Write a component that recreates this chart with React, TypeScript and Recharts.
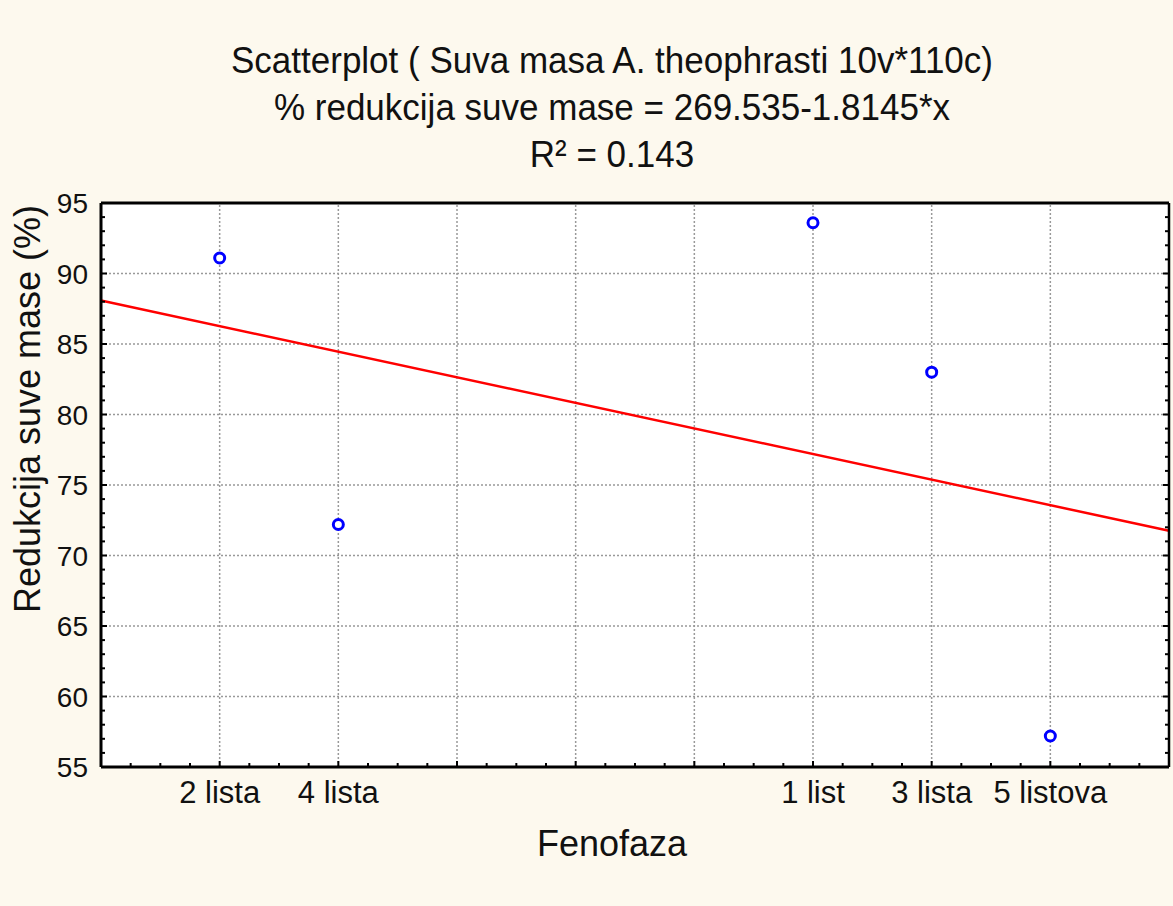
import { ScatterChart, Scatter, XAxis, YAxis, ReferenceLine } from 'recharts';

// faze razvoja (x pozicije iz Statistica grafika)
const PHASES = ['2 lista', '4 lista', '1 list', '3 lista', '5 listova'];
const PHASE_X = [101, 102, 106, 107, 108];
const REDUCTION = [91.1, 72.2, 93.6, 83.0, 57.2];

const X_DOMAIN: [number, number] = [100, 109];
const Y_DOMAIN: [number, number] = [55, 95];
const Y_LABELS = [55, 60, 65, 70, 75, 80, 85, 90, 95];

// regresija iz naslova
const INTERCEPT = 269.535;
const SLOPE = -1.8145;

const TITLE_LINES = [
    'Scatterplot ( Suva masa A. theophrasti 10v*110c)',
    '% redukcija suve mase = 269.535-1.8145*x',
    'R² = 0.143',
];

const points = PHASE_X.map((x, i) => ({ x, y: REDUCTION[i], name: PHASES[i] }));

const xMinor = Array.from({ length: 37 }, (_, i) => X_DOMAIN[0] + i * 0.25);
const xMajor = Array.from({ length: 10 }, (_, i) => X_DOMAIN[0] + i);
const yMinor = Array.from({ length: 41 }, (_, i) => Y_DOMAIN[0] + i);

const FONT = '"Liberation Sans", Arial, sans-serif';
const BG = '#fdf9ee';
const GRID = '#999999';

const labelFor = (v: number) => {
    const idx = PHASE_X.indexOf(v);
    return idx >= 0 ? PHASES[idx] : '';
};

const BottomTick = (props: any) => {
    const { x, y, payload } = props;
    const major = Number.isInteger(payload.value);
    const label = labelFor(payload.value);
    return (
        <g>
            <line x1={x} x2={x} y1={y} y2={y - (major ? 6 : 4)} stroke="#000" strokeWidth={2} />
            {label && (
                <text x={x} y={y + 36} textAnchor="middle" fontSize={31} fontFamily={FONT} fill="#111">
                    {label}
                </text>
            )}
        </g>
    );
};

const TopTick = (props: any) => {
    const { x, y, payload } = props;
    const major = Number.isInteger(payload.value);
    return <line x1={x} x2={x} y1={y} y2={y + (major ? 6 : 4)} stroke="#000" strokeWidth={2} />;
};

const LeftTick = (props: any) => {
    const { x, y, payload } = props;
    const major = payload.value % 5 === 0;
    return (
        <g>
            <line x1={x} x2={x + (major ? 6 : 4)} y1={y} y2={y} stroke="#000" strokeWidth={2} />
            {major && (
                <text x={x - 13} y={y} dy="0.36em" textAnchor="end" fontSize={28} fontFamily={FONT} fill="#111">
                    {payload.value}
                </text>
            )}
        </g>
    );
};

const RightTick = (props: any) => {
    const { x, y, payload } = props;
    const major = payload.value % 5 === 0;
    return <line x1={x} x2={x - (major ? 6 : 4)} y1={y} y2={y} stroke="#000" strokeWidth={2} />;
};

const Ring = (props: any) => {
    const { cx, cy } = props;
    return <circle cx={cx} cy={cy} r={5} fill="#fff" stroke="#0000ff" strokeWidth={3} />;
};

export default function App() {
    return (
        <div style={{ position: 'absolute', left: 0, top: 0, width: 1173, height: 906, background: BG, fontFamily: FONT }}>
            <div
                style={{
                    position: 'absolute',
                    left: 0,
                    top: 36,
                    width: 1224,
                    textAlign: 'center',
                    fontSize: 35,
                    lineHeight: '43.5px',
                    color: '#111',
                    transform: 'scaleY(1.08)',
                    transformOrigin: 'top',
                }}
            >
                {TITLE_LINES.map((t) => (
                    <div key={t}>{t}</div>
                ))}
            </div>
            <ScatterChart
                width={1173}
                height={906}
                margin={{ top: 202, right: 3, bottom: 79, left: 0 }}
                style={{ position: 'absolute', left: 0, top: 0 }}
            >
                <rect x={101} y={203} width={1068} height={564} fill="#fff" />
                <XAxis
                    xAxisId="bottom"
                    dataKey="x"
                    type="number"
                    domain={X_DOMAIN}
                    ticks={xMinor}
                    interval={0}
                    height={60}
                    tickSize={0}
                    tickMargin={0}
                    tick={<BottomTick />}
                    axisLine={{ stroke: '#000', strokeWidth: 3 }}
                    allowDataOverflow
                />
                <XAxis
                    xAxisId="top"
                    orientation="top"
                    type="number"
                    domain={X_DOMAIN}
                    ticks={xMinor}
                    interval={0}
                    height={1}
                    tickSize={0}
                    tickMargin={0}
                    tick={<TopTick />}
                    axisLine={{ stroke: '#000', strokeWidth: 3 }}
                    allowDataOverflow
                />
                <YAxis
                    yAxisId="left"
                    dataKey="y"
                    type="number"
                    domain={Y_DOMAIN}
                    ticks={yMinor}
                    interval={0}
                    width={101}
                    tickSize={0}
                    tickMargin={0}
                    tick={<LeftTick />}
                    axisLine={{ stroke: '#000', strokeWidth: 3 }}
                    allowDataOverflow
                />
                <YAxis
                    yAxisId="right"
                    orientation="right"
                    type="number"
                    domain={Y_DOMAIN}
                    ticks={yMinor}
                    interval={0}
                    width={1}
                    tickSize={0}
                    tickMargin={0}
                    tick={<RightTick />}
                    axisLine={{ stroke: '#000', strokeWidth: 2.5 }}
                    allowDataOverflow
                />
                {xMajor.slice(1, -1).map((v) => (
                    <ReferenceLine key={`vx${v}`} x={v} xAxisId="bottom" yAxisId="left" stroke={GRID} strokeWidth={1.5} strokeDasharray="2 2" />
                ))}
                {Y_LABELS.slice(1, -1).map((v) => (
                    <ReferenceLine key={`hy${v}`} y={v} xAxisId="bottom" yAxisId="left" stroke={GRID} strokeWidth={1.5} strokeDasharray="2 2" />
                ))}
                <ReferenceLine
                    xAxisId="bottom"
                    yAxisId="left"
                    segment={[
                        { x: X_DOMAIN[0], y: INTERCEPT + SLOPE * X_DOMAIN[0] },
                        { x: X_DOMAIN[1], y: INTERCEPT + SLOPE * X_DOMAIN[1] },
                    ]}
                    stroke="#ff0000"
                    strokeWidth={2.5}
                />
                <Scatter
                    data={points}
                    xAxisId="bottom"
                    yAxisId="left"
                    shape={<Ring />}
                    isAnimationActive={false}
                />
            </ScatterChart>
            <div style={{ position: 'absolute', left: 0, top: 823, width: 1224, textAlign: 'center', fontSize: 36, color: '#111' }}>
                Fenofaza
            </div>
            <div
                style={{
                    position: 'absolute',
                    left: 28,
                    top: 409,
                    transform: 'translate(-50%, -50%) rotate(-90deg)',
                    fontSize: 36,
                    whiteSpace: 'nowrap',
                    color: '#111',
                }}
            >
                Redukcija suve mase (%)
            </div>
        </div>
    );
}
